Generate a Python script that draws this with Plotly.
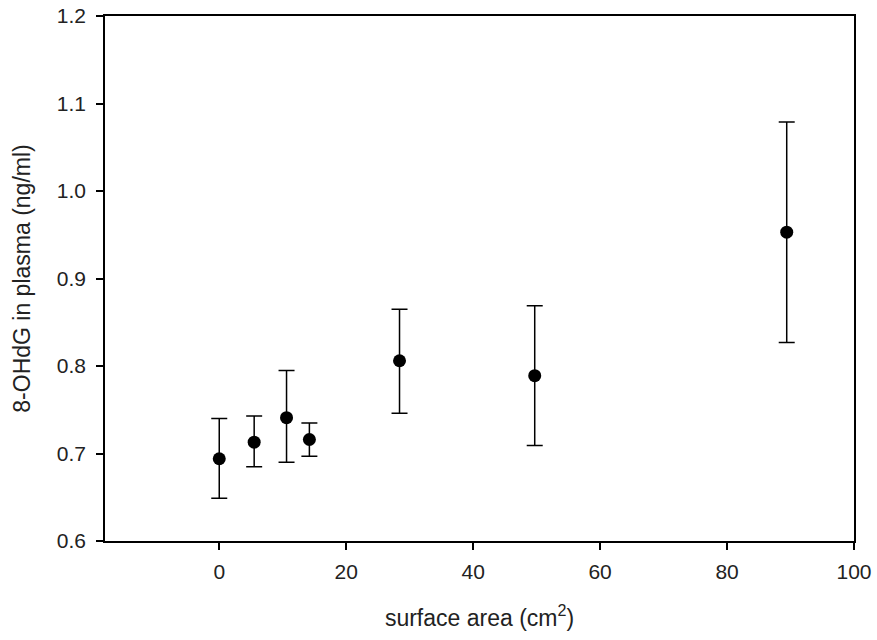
import plotly.graph_objects as go

area = [0, 5.5, 10.6, 14.2, 28.4, 49.7, 89.4]
ohdg = [0.694, 0.713, 0.741, 0.716, 0.806, 0.789, 0.953]
err_up = [0.046, 0.030, 0.054, 0.019, 0.059, 0.080, 0.126]
err_down = [0.045, 0.028, 0.051, 0.019, 0.060, 0.080, 0.126]

x_ticks = [0, 20, 40, 60, 80, 100]
y_ticks = [0.6, 0.7, 0.8, 0.9, 1.0, 1.1, 1.2]

fig = go.Figure(go.Scatter(
    x=area, y=ohdg, mode="markers",
    marker=dict(color="black", size=13),
    error_y=dict(type="data", symmetric=False, array=err_up, arrayminus=err_down,
                 color="black", thickness=1.5, width=8),
    showlegend=False,
))

font = "Liberation Sans, Arial, sans-serif"
fig.update_layout(
    width=877, height=640,
    margin=dict(l=105, r=23, t=16, b=99, autoexpand=False),
    paper_bgcolor="white", plot_bgcolor="white",
    font=dict(family=font, color="#222", size=21),
)
fig.update_xaxes(
    range=[-18, 100], tickvals=x_ticks, ticktext=[str(v) for v in x_ticks],
    showgrid=False, zeroline=False, showline=True, linecolor="black", linewidth=1.5,
    mirror=True, ticks="outside", ticklen=7, tickwidth=1.5, tickcolor="black",
    tickfont=dict(family=font, size=21, color="#222"), ticklabelstandoff=4,
    automargin=False,
    title=dict(text="surface area (cm<sup>2</sup>)", font=dict(family=font, size=23, color="#222"), standoff=28),
)
fig.update_yaxes(
    range=[0.6, 1.2], tickvals=y_ticks, ticktext=[f"{v:.1f}" for v in y_ticks],
    showgrid=False, zeroline=False, showline=True, linecolor="black", linewidth=1.5,
    mirror=True, ticks="outside", ticklen=7, tickwidth=1.5, tickcolor="black",
    tickfont=dict(family=font, size=21, color="#222"), ticklabelstandoff=6,
    automargin=False,
    title=dict(text="8-OHdG in plasma (ng/ml)", font=dict(family=font, size=23, color="#222"), standoff=20),
)

fig.write_html("out.html")
